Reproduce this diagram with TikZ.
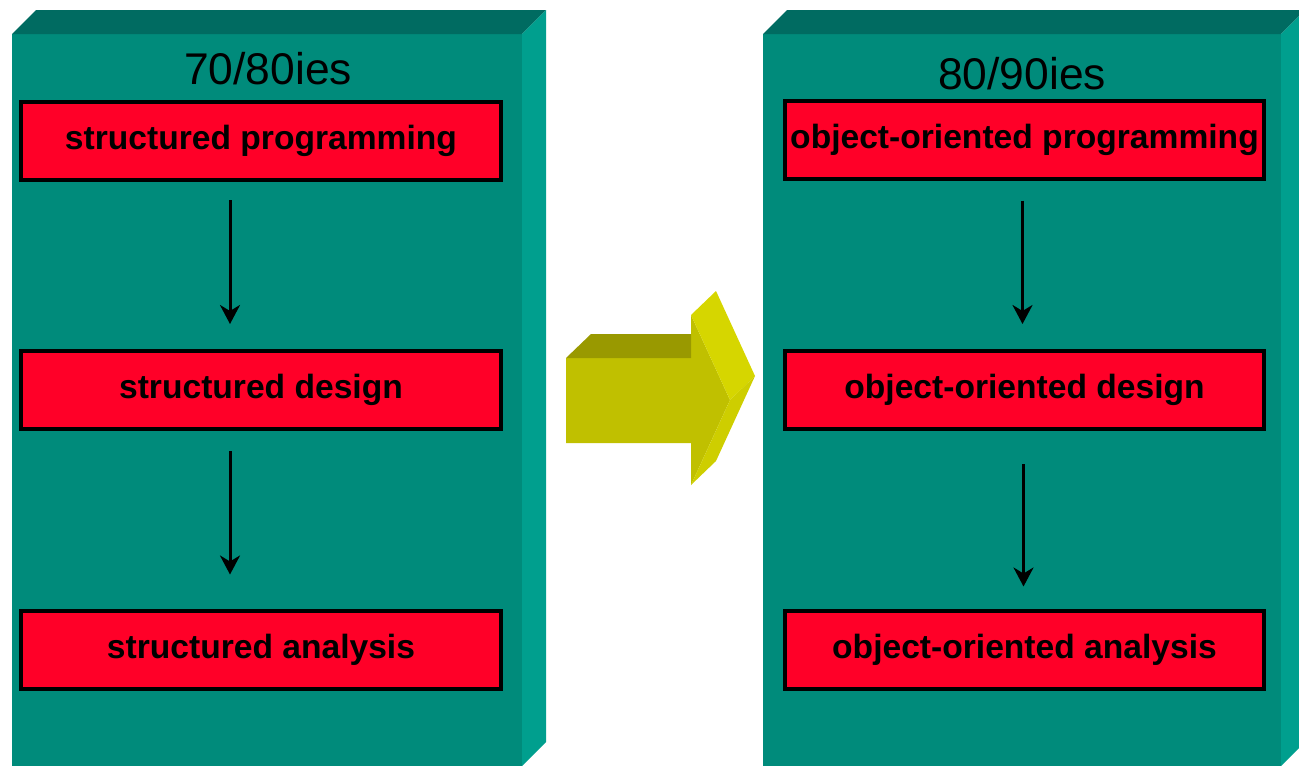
\documentclass[tikz,border=0pt]{standalone}
\usepackage{fontspec}
\setmainfont{Liberation Sans}
\usetikzlibrary{positioning,arrows.meta}

\definecolor{tealfront}{RGB}{0,139,123}
\definecolor{tealtop}{RGB}{0,107,97}
\definecolor{tealside}{RGB}{0,159,142}
\definecolor{boxred}{RGB}{255,0,40}
\definecolor{olivefront}{RGB}{192,192,0}
\definecolor{olivetop}{RGB}{153,153,0}
\definecolor{oliveup}{RGB}{214,214,0}
\definecolor{olivelow}{RGB}{206,206,0}

\begin{document}
\begin{tikzpicture}[x=0.5pt,y=-0.5pt,
  stage/.style={draw=black,line width=2pt,fill=boxred,minimum width=240pt,minimum height=39pt,inner sep=0pt,font=\fontsize{16.8}{20}\selectfont\bfseries},
  era/.style={anchor=base,font=\fontsize{22.2}{26}\selectfont},
  flow/.style={-{Stealth[length=9.5pt,width=10pt,inset=3pt]},line width=1.5pt}]
\useasboundingbox (0,0) rectangle (1299,766);
\clip (0,0) rectangle (1299,766);
% two teal slabs: front, top and right side (depth 24px up-right)
\foreach \xa/\xb in {12/522,763/1281}{
  \fill[tealfront] (\xa,34) rectangle (\xb,766);
  \fill[tealtop] (\xa,34) -- ++(24,-24) -- (\xb+24,10) -- (\xb,34) -- cycle;
  \fill[tealside] (\xb,34) -- (\xb+24,10) -- (\xb+24,742) -- (\xb,766) -- cycle;
}
% the big yellow arrow in between
\fill[olivefront] (566,358) -- (691,358) -- (691,315) -- (730,400) -- (691,485) -- (691,443) -- (566,443) -- cycle;
\fill[olivetop] (566,358) -- (591,334) -- (691,334) -- (691,358) -- cycle;
\fill[oliveup] (691,315) -- (716,291) -- (755,376) -- (730,400) -- cycle;
\fill[olivelow] (730,400) -- (755,376) -- (716,461) -- (691,485) -- cycle;
% headers
\node[era] (era70) at (268,84) {70/80ies};
\node[era] (era80) at (1022,89) {80/90ies};
% left column
\node[stage] (sprog) at (261,141) {structured programming};
\node[stage] (sdesign) at (261,390) {structured design};
\node[stage] (sanal) at (261,649.5) {structured analysis};
% right column
\node[stage,minimum width=239.5pt] (oprog) at (1024.5,139.5) {object-oriented programming};
\node[stage,minimum width=239.5pt] (odesign) at (1024.5,390) {object-oriented design};
\node[stage,minimum width=239.5pt] (oanal) at (1024.5,649.5) {object-oriented analysis};
% arrows
\draw[flow,shorten <=9pt,shorten >=12.5pt] ([xshift=-15.5pt]sprog.south) -- ([xshift=-15.5pt]sdesign.north);
\draw[flow,shorten <=10pt,shorten >=17pt] ([xshift=-15.5pt]sdesign.south) -- ([xshift=-15.5pt]sanal.north);
\draw[flow,shorten <=10pt,shorten >=12.5pt] ([xshift=-1pt]oprog.south) -- ([xshift=-1pt]odesign.north);
\draw[flow,shorten <=16.5pt,shorten >=11pt] ([xshift=-0.5pt]odesign.south) -- ([xshift=-0.5pt]oanal.north);
\end{tikzpicture}
\end{document}
